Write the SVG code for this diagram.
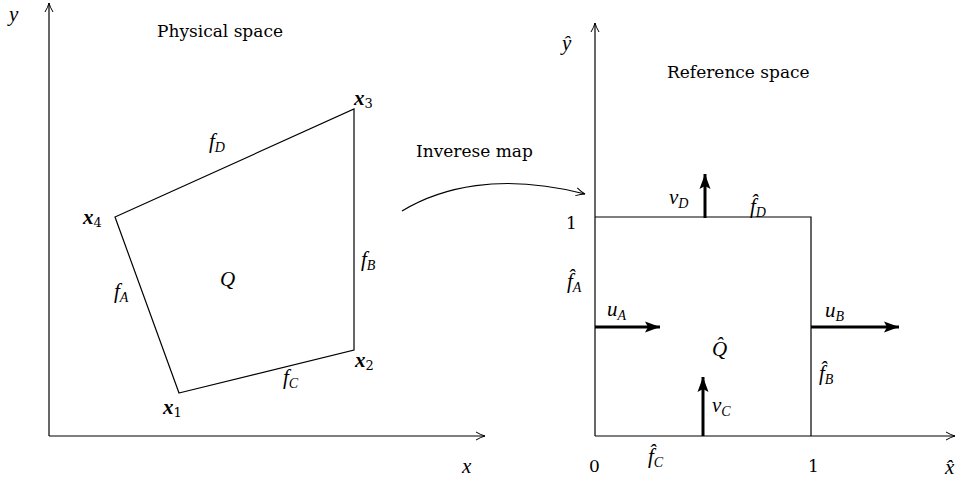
<svg xmlns="http://www.w3.org/2000/svg" width="957" height="482" viewBox="0 0 957 482">
<defs>
<style>
.t{font-family:"DejaVu Serif","Liberation Serif",serif;font-size:17px;fill:#000}
.m{font-family:"Liberation Serif","DejaVu Serif",serif;font-style:italic;font-size:21px;fill:#000}
.b{font-family:"Liberation Serif","DejaVu Serif",serif;font-style:italic;font-weight:bold;font-size:21px;fill:#000}
.s{font-size:14px;font-style:italic;font-weight:normal}
.n{font-family:"DejaVu Serif",serif;font-size:13px;font-style:normal;font-weight:normal}
.ln{fill:none;stroke:#000;stroke-width:1.2}
.thick{fill:none;stroke:#000;stroke-width:3}
.ah{fill:none;stroke:#000;stroke-width:1}
</style>
<marker id="open" markerWidth="12" markerHeight="10" refX="10" refY="5" orient="auto" markerUnits="userSpaceOnUse">
<path d="M1,1 Q6,4 10,5 Q6,6 1,9" class="ah"/>
</marker>
<marker id="fill" markerWidth="16" markerHeight="12" refX="15" refY="6" orient="auto" markerUnits="userSpaceOnUse">
<path d="M0,0.5 L15,6 L0,11.5 L3,6 Z" fill="#000"/>
</marker>
</defs>
<g id="physical-axes">
<line x1="49" y1="436" x2="49" y2="3" class="ln" marker-end="url(#open)"/>
<line x1="49" y1="436" x2="485" y2="436" class="ln" marker-end="url(#open)"/>
<text x="9" y="21" class="m">y</text>
<text x="462" y="473" class="m">x</text>
<text x="157" y="37" class="t">Physical space</text>
</g>
<g id="quad-Q">
<polygon points="179,393 354,350 354,109 115,217" class="ln"/>
<text x="220" y="286" class="m">Q</text>
</g>
<g id="vertex-labels">
<text x="354" y="105" class="b">x<tspan class="n" dy="3">3</tspan></text>
<text x="83" y="224" class="b">x<tspan class="n" dy="3">4</tspan></text>
<text x="163" y="414" class="b">x<tspan class="n" dy="3">1</tspan></text>
<text x="355" y="367" class="b">x<tspan class="n" dy="3">2</tspan></text>
</g>
<g id="edge-labels">
<text x="209" y="148" class="m">f<tspan class="s" dy="4">D</tspan></text>
<text x="361" y="266" class="m">f<tspan class="s" dy="4">B</tspan></text>
<text x="114" y="298" class="m">f<tspan class="s" dy="4">A</tspan></text>
<text x="283" y="384" class="m">f<tspan class="s" dy="4">C</tspan></text>
</g>
<g id="connectors">
<path d="M402,211 C440,188 500,172 585,194" class="ln" marker-end="url(#open)"/>
<text x="416" y="157" class="t">Inverese map</text>
</g>
<g id="reference-axes">
<line x1="595" y1="436" x2="595" y2="23" class="ln" marker-end="url(#open)"/>
<line x1="595" y1="436" x2="955" y2="436" class="ln" marker-end="url(#open)"/>
<text x="562" y="50" class="m">ŷ</text>
<text x="945" y="474" class="m">x̂</text>
<text x="667" y="78" class="t">Reference space</text>
<text x="566" y="229" class="t">1</text>
<text x="589" y="472" class="t">0</text>
<text x="808" y="472" class="t">1</text>
</g>
<g id="square-Qhat">
<polyline points="595,217 811,217 811,436" class="ln"/>
<text x="712" y="356" class="m">Q̂</text>
<text x="567" y="288" class="m">f̂<tspan class="s" dy="4">A</tspan></text>
<text x="819" y="380" class="m">f̂<tspan class="s" dy="4">B</tspan></text>
<text x="648" y="463" class="m">f̂<tspan class="s" dy="4">C</tspan></text>
<text x="750" y="213" class="m">f̂<tspan class="s" dy="4">D</tspan></text>
</g>
<g id="flux-arrows">
<line x1="705" y1="218" x2="705" y2="174" class="thick" marker-end="url(#fill)"/>
<text x="669" y="204" class="m">v<tspan class="s" dy="4">D</tspan></text>
<line x1="595" y1="327" x2="660" y2="327" class="thick" marker-end="url(#fill)"/>
<text x="607" y="316" class="m">u<tspan class="s" dy="4">A</tspan></text>
<line x1="811" y1="327" x2="899" y2="327" class="thick" marker-end="url(#fill)"/>
<text x="825" y="317" class="m">u<tspan class="s" dy="4">B</tspan></text>
<line x1="703" y1="436" x2="703" y2="377" class="thick" marker-end="url(#fill)"/>
<text x="712" y="412" class="m">v<tspan class="s" dy="4">C</tspan></text>
</g>
</svg>
